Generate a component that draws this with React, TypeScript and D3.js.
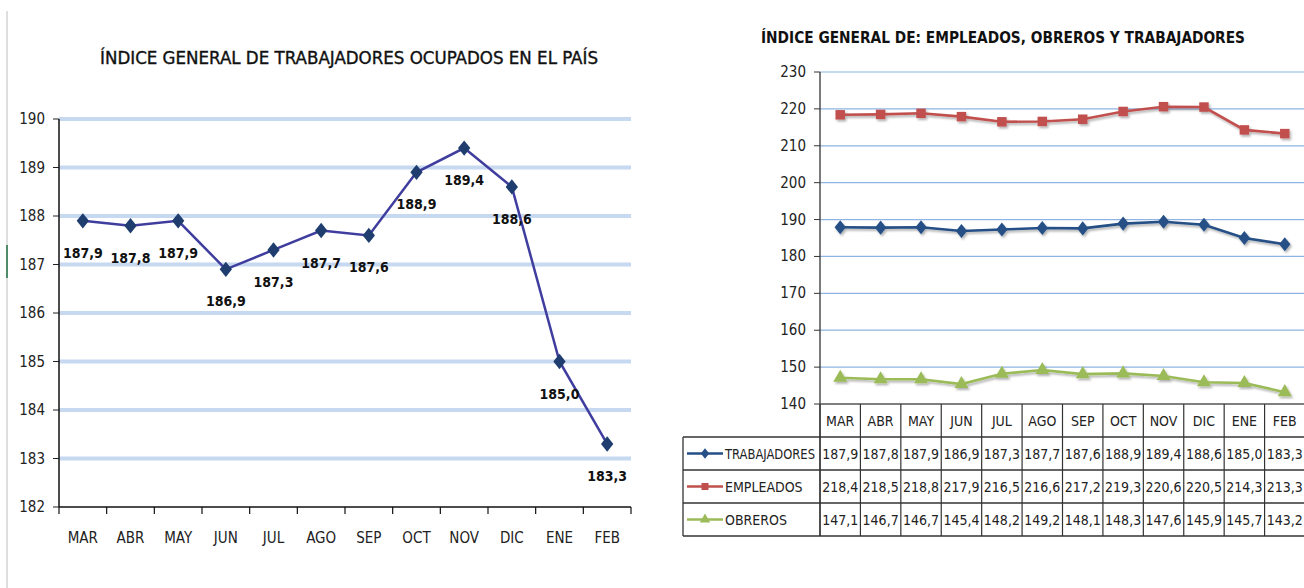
import React from "react";
import * as d3 from "d3";

const months = ["MAR", "ABR", "MAY", "JUN", "JUL", "AGO", "SEP", "OCT", "NOV", "DIC", "ENE", "FEB"];
const trabajadores = [187.9, 187.8, 187.9, 186.9, 187.3, 187.7, 187.6, 188.9, 189.4, 188.6, 185.0, 183.3];
const empleados = [218.4, 218.5, 218.8, 217.9, 216.5, 216.6, 217.2, 219.3, 220.6, 220.5, 214.3, 213.3];
const obreros = [147.1, 146.7, 146.7, 145.4, 148.2, 149.2, 148.1, 148.3, 147.6, 145.9, 145.7, 143.2];
const leftTicks = [182, 183, 184, 185, 186, 187, 188, 189, 190];
const rightTicks = [140, 150, 160, 170, 180, 190, 200, 210, 220, 230];

const FONT = "'Liberation Sans Narrow', 'DejaVu Sans Condensed', 'Arial Narrow', sans-serif";
const fmt = (v: number) => v.toFixed(1).replace(".", ",");

// Excel-style diamond: a bit wider than d3's symbolDiamond
const wideDiamond = {
  draw(context: d3.Path, size: number) {
    const h = Math.sqrt(size / 1.6);
    const w = h * 0.8;
    context.moveTo(0, -h);
    context.lineTo(w, 0);
    context.lineTo(0, h);
    context.lineTo(-w, 0);
    context.closePath();
  },
};

const series = [
  { name: "TRABAJADORES", values: trabajadores, color: "#254f86", symbol: wideDiamond, size: 80 },
  { name: "EMPLEADOS", values: empleados, color: "#c0504d", symbol: d3.symbolSquare, size: 90 },
  { name: "OBREROS", values: obreros, color: "#9bbb59", symbol: d3.symbolTriangle, size: 85 },
];

function LeftChart() {
  const x = d3.scaleBand<string>().domain(months).range([59, 631]);
  const y = d3.scaleLinear().domain([182, 190]).range([507, 119]);
  const cx = (m: string) => (x(m) ?? 0) + x.bandwidth() / 2;
  const line = d3
    .line<number>()
    .x((_, i) => cx(months[i]))
    .y((d) => y(d));
  const diamond = d3.symbol().type(wideDiamond).size(95)();
  const bounds = [...months.map((m) => x(m) ?? 0), x.range()[1]];

  return (
    <g>
      <line x1={7} x2={7} y1={11} y2={588} stroke="#bfbfbf" strokeWidth={1} />
      <line x1={7} x2={7} y1={245} y2={278} stroke="#1e7145" strokeWidth={1.5} />
      <text x={349} y={64} textAnchor="middle" fontFamily={FONT} fontSize={17} fill="#111"
        stroke="#111" strokeWidth={0.35} textLength={498} lengthAdjust="spacingAndGlyphs">
        ÍNDICE GENERAL DE TRABAJADORES  OCUPADOS EN EL PAÍS
      </text>
      {leftTicks.map((t) => (
        <g key={t}>
          {t > 182 && (
            <line x1={59} x2={631} y1={y(t)} y2={y(t)} stroke="#c6d9f1" strokeWidth={4} />
          )}
          <line x1={53} x2={59} y1={y(t)} y2={y(t)} stroke="#222" strokeWidth={1} />
          <text x={45} y={y(t) + 5} textAnchor="end" fontFamily={FONT} fontSize={15} fill="#222">
            {t}
          </text>
        </g>
      ))}
      <line x1={59} x2={59} y1={119} y2={507} stroke="#111" strokeWidth={1.5} />
      <line x1={59} x2={631} y1={507} y2={507} stroke="#111" strokeWidth={1.5} />
      {bounds.map((b, i) => (
        <line key={i} x1={b} x2={b} y1={507} y2={514} stroke="#111" strokeWidth={1.2} />
      ))}
      {months.map((m) => (
        <text key={m} x={cx(m)} y={543} textAnchor="middle" fontFamily={FONT} fontSize={15} fill="#222">
          {m}
        </text>
      ))}
      <path d={line(trabajadores) ?? ""} fill="none" stroke="#3f3d9e" strokeWidth={2.5} />
      {trabajadores.map((v, i) => (
        <g key={i}>
          <path d={diamond ?? ""} transform={`translate(${cx(months[i])},${y(v)})`} fill="#1f3d6e" />
          <text x={cx(months[i])} y={y(v) + 37} textAnchor="middle" fontFamily={FONT}
            fontSize={14} fontWeight="bold" fill="#111">
            {fmt(v)}
          </text>
        </g>
      ))}
    </g>
  );
}

function RightChart() {
  const x = d3.scaleBand<string>().domain(months).range([820, 1305]);
  const y = d3.scaleLinear().domain([140, 230]).range([404, 72]);
  const cx = (m: string) => (x(m) ?? 0) + x.bandwidth() / 2;
  const bounds = [...months.map((m) => x(m) ?? 0), x.range()[1]];
  const rowTop = [437, 470, 503];
  const rowH = 33;
  const tableBottom = 536;

  return (
    <g>
      <defs>
        <filter id="shadow" x="-5%" y="-20%" width="110%" height="140%">
          <feDropShadow dx={1.5} dy={2} stdDeviation={1.2} floodColor="#000" floodOpacity={0.3} />
        </filter>
      </defs>
      <text x={1003} y={43} textAnchor="middle" fontFamily={FONT} fontSize={16} fontWeight="bold" fill="#111"
        textLength={484} lengthAdjust="spacingAndGlyphs">
        ÍNDICE GENERAL DE: EMPLEADOS, OBREROS Y TRABAJADORES
      </text>
      {rightTicks.map((t) => (
        <g key={t}>
          {t > 140 && (
            <line x1={820} x2={1304} y1={y(t)} y2={y(t)} stroke="#8eb4e3" strokeWidth={1.2} />
          )}
          <line x1={814} x2={820} y1={y(t)} y2={y(t)} stroke="#333" strokeWidth={1} />
          <text x={806} y={y(t) + 5} textAnchor="end" fontFamily={FONT} fontSize={15} fill="#222">
            {t}
          </text>
        </g>
      ))}
      <line x1={820} x2={820} y1={72} y2={tableBottom} stroke="#333" strokeWidth={1.3} />
      <line x1={820} x2={1304} y1={404} y2={404} stroke="#555" strokeWidth={1.3} />

      {series.map((s) => {
        const line = d3
          .line<number>()
          .x((_, i) => cx(months[i]))
          .y((d) => y(d));
        const sym = d3.symbol().type(s.symbol).size(s.size)();
        return (
          <g key={s.name} filter="url(#shadow)">
            <path d={line(s.values) ?? ""} fill="none" stroke={s.color} strokeWidth={2.6} />
            {s.values.map((v, i) => (
              <path key={i} d={sym ?? ""} transform={`translate(${cx(months[i])},${y(v)})`} fill={s.color} />
            ))}
          </g>
        );
      })}

      {/* data table */}
      {bounds.map((b, i) => (
        <line key={i} x1={b} x2={b} y1={404} y2={tableBottom} stroke="#333" strokeWidth={1.2} />
      ))}
      {months.map((m) => (
        <text key={m} x={cx(m)} y={426} textAnchor="middle" fontFamily={FONT} fontSize={14} fill="#222">
          {m}
        </text>
      ))}
      {rowTop.map((t, r) => (
        <line key={r} x1={683} x2={1304} y1={t} y2={t} stroke="#333" strokeWidth={1.3} />
      ))}
      <line x1={683} x2={1304} y1={tableBottom} y2={tableBottom} stroke="#333" strokeWidth={1.3} />
      <line x1={683} x2={683} y1={437} y2={tableBottom} stroke="#333" strokeWidth={1.3} />
      {series.map((s, r) => {
        const sym = d3.symbol().type(s.symbol).size(s.size * 0.55)();
        const my = rowTop[r] + rowH / 2;
        return (
          <g key={s.name}>
            <line x1={687} x2={723} y1={my} y2={my} stroke={s.color} strokeWidth={2.6} />
            <path d={sym ?? ""} transform={`translate(705,${my})`} fill={s.color} />
            <text x={725} y={my + 5} fontFamily={FONT} fontSize={14} fill="#222"
              textLength={s.name === "TRABAJADORES" ? 90 : undefined}
              lengthAdjust="spacingAndGlyphs">
              {s.name}
            </text>
            {s.values.map((v, i) => (
              <text key={i} x={cx(months[i])} y={my + 5} textAnchor="middle" fontFamily={FONT}
                fontSize={14} fill="#222">
                {fmt(v)}
              </text>
            ))}
          </g>
        );
      })}
    </g>
  );
}

export default function App() {
  return (
    <div style={{ position: "absolute", left: 0, top: 0, width: 1304, height: 588, background: "#fff" }}>
      <svg width={1304} height={588} viewBox="0 0 1304 588">
        <rect width={1304} height={588} fill="#fff" />
        <LeftChart />
        <RightChart />
      </svg>
    </div>
  );
}
